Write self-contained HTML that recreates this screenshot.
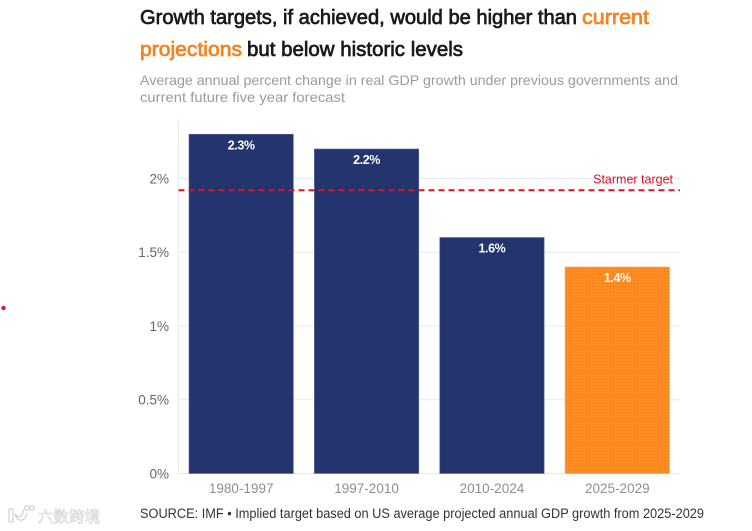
<!DOCTYPE html>
<html lang="en">
<head>
<meta charset="utf-8">
<title>Growth targets chart</title>
<style>
html,body{margin:0;padding:0;background:#fff;width:752px;height:531px;overflow:hidden}
svg{display:block;font-family:"Liberation Sans","Noto Sans CJK SC",sans-serif}
</style>
</head>
<body>
<svg id="chart" width="752" height="531" viewBox="0 0 752 531" xmlns="http://www.w3.org/2000/svg">
  <defs>
    <pattern id="dots" width="3" height="3" patternUnits="userSpaceOnUse">
      <rect width="3" height="3" fill="#ff8f24"/>
      <circle cx="1.5" cy="1.5" r="0.9" fill="#f57f17"/>
    </pattern>
  </defs>
  <g font-size="20" stroke-width="0.7">
    <text x="140" y="24" textLength="437" lengthAdjust="spacingAndGlyphs" fill="#1a1a1a" stroke="#1a1a1a">Growth targets, if achieved, would be higher than</text>
    <text x="582" y="24" textLength="67" lengthAdjust="spacingAndGlyphs" fill="#f5821f" stroke="#f5821f">current</text>
    <text x="140" y="56" textLength="102" lengthAdjust="spacingAndGlyphs" fill="#f5821f" stroke="#f5821f">projections</text>
    <text x="247" y="56" textLength="216" lengthAdjust="spacingAndGlyphs" fill="#1a1a1a" stroke="#1a1a1a">but below historic levels</text>
  </g>
  <g font-size="14" fill="#9b9b9b">
    <text x="140" y="85" textLength="538" lengthAdjust="spacingAndGlyphs">Average annual percent change in real GDP growth under previous governments and</text>
    <text x="140" y="102" textLength="205" lengthAdjust="spacingAndGlyphs">current future five year forecast</text>
  </g>
  <g id="grid"></g>
  <g id="bars"></g>
  <g id="axes"></g>
  <g id="target"></g>
  <text x="140" y="518" font-size="13.5" fill="#333" textLength="564" lengthAdjust="spacingAndGlyphs">SOURCE: IMF • Implied target based on US average projected annual GDP growth from 2025-2029</text>
  <circle cx="3.5" cy="308" r="2.2" fill="#e8112d"/>
  <g fill="none" stroke="#cfcfcf" stroke-width="1.2">
    <path d="M9 509 L9 522 L13 522 L13 509 Z M24 509 C22 517 19 519 15 514 C17 522 25 523 27 513"/>
    <circle cx="27" cy="508" r="2.2"/>
    <circle cx="32" cy="508" r="2.2"/>
    <text x="38" y="522" font-size="15.5" fill="#fff" stroke-width="0.6" textLength="62">六数跨境</text>
  </g>
  <script>
    var categories = ['1980-1997', '1997-2010', '2010-2024', '2025-2029'];
    var growthValues = [2.3, 2.2, 1.6, 1.4];
    var valueLabels = ['2.3%', '2.2%', '1.6%', '1.4%'];
    var yTicks = [0, 0.5, 1, 1.5, 2];
    var yTickLabels = ['0%', '0.5%', '1%', '1.5%', '2%'];
    var targetValue = 1.92;
    var targetLabel = 'Starmer target';
    var forecastCategory = '2025-2029';

    var NS = 'http://www.w3.org/2000/svg';
    var plotLeft = 178.5, plotRight = 680, plotBottom = 473.5, pxPerUnit = 147.5;
    var barPad = 10.5;
    function yScale(v) { return plotBottom - v * pxPerUnit; }
    function bandWidth() { return (plotRight - plotLeft) / categories.length; }
    function xScale(i) { return plotLeft + i * bandWidth(); }
    function make(tag, attrs, parent, text) {
      var el = document.createElementNS(NS, tag);
      for (var k in attrs) { el.setAttribute(k, attrs[k]); }
      if (text !== undefined) { el.textContent = text; }
      parent.appendChild(el);
      return el;
    }
    var gridG = document.getElementById('grid');
    var barsG = document.getElementById('bars');
    var axesG = document.getElementById('axes');
    var targetG = document.getElementById('target');

    yTicks.forEach(function (t, i) {
      var y = yScale(t);
      var line = make('line', { x1: plotLeft, x2: plotRight, y1: y, y2: y, stroke: '#e9e9e9', 'stroke-width': 1 }, gridG);
      
      
      var label = make('text', { x: 169, y: y + 4.8, 'text-anchor': 'end', 'font-size': 13.5, fill: '#666' }, axesG, yTickLabels[i]);
      
      
    });

    var yAxis = make('line', { x1: plotLeft, x2: plotLeft, y1: 119, y2: plotBottom, stroke: '#e8ece4', 'stroke-width': 1 }, axesG);
    
    

    categories.forEach(function (c, i) {
      var x = xScale(i) + barPad;
      var w = bandWidth() - 2 * barPad;
      var top = yScale(growthValues[i]);
      var isForecast = c === forecastCategory;
      var bar = make('rect', {
        x: x, y: top, width: w, height: plotBottom - top,
        fill: isForecast ? 'url(#dots)' : '#23346f',
        stroke: isForecast ? '#ffa04a' : '#5d6b98', 'stroke-width': 0.6
      }, barsG);
      
      
      var cx = x + w / 2;
      var val = make('text', { x: cx, y: top + 15, 'text-anchor': 'middle', 'font-size': 12.5, 'font-weight': 700, fill: '#fff', 'letter-spacing': '-0.4' }, barsG, valueLabels[i]);
      
      
      var cat = make('text', { x: cx, y: 493, 'text-anchor': 'middle', 'font-size': 13.5, fill: '#8e8e8e' }, axesG, c);
      
      
    });

    var ty = yScale(targetValue);
    var tLine = make('line', { x1: plotLeft, x2: plotRight, y1: ty, y2: ty, stroke: '#e0112b', 'stroke-width': 2, 'stroke-dasharray': '6 4' }, targetG);
    
    
    var tLabel = make('text', { x: 673, y: ty - 7, 'text-anchor': 'end', 'font-size': 12.5, fill: '#d8112a' }, targetG, targetLabel);
    
    
  </script>
</svg>
</body>
</html>
